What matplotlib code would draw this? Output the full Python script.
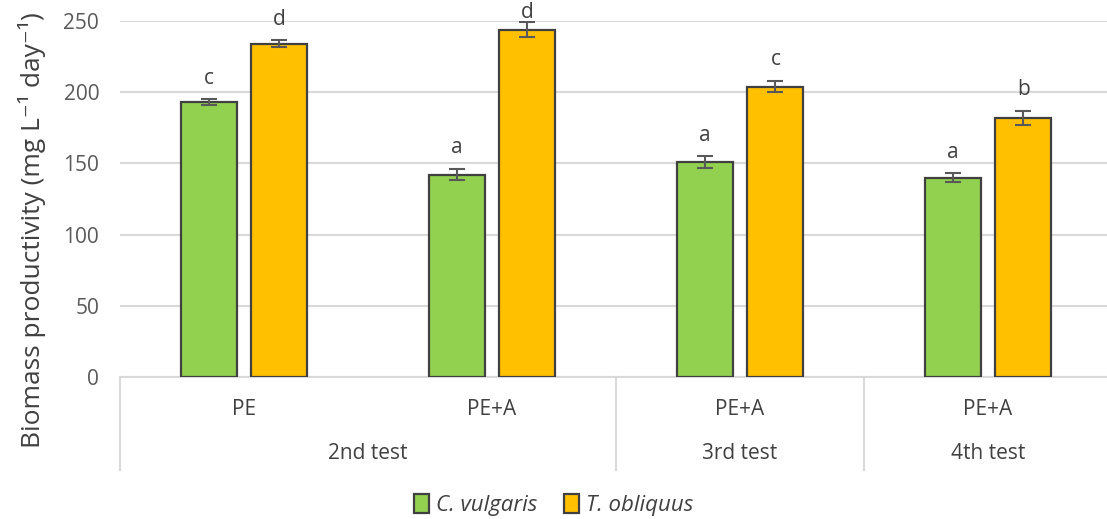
import matplotlib.pyplot as plt
import numpy as np

plt.rcParams['font.family'] = ['Open Sans', 'DejaVu Sans']

# Data
treatments = ['PE', 'PE+A', 'PE+A', 'PE+A']
tests = ['2nd test', '3rd test', '4th test']
test_spans = [(0, 1), (2, 2), (3, 3)]  # first and last category index per test
species = ['C. vulgaris', 'T. obliquus']
cv_mean = [193, 142, 151, 140]
cv_err = [2, 4, 4, 3]
to_mean = [234, 244, 204, 182]
to_err = [2.5, 5, 4, 5]
cv_letters = ['c', 'a', 'a', 'a']
to_letters = ['d', 'd', 'c', 'b']

green = '#92D050'
orange = '#FFC000'
edge = '#404040'
txt = '#404040'
W, H = 1107, 519

fig = plt.figure(figsize=(W / 100, H / 100), dpi=100)
ax = fig.add_axes([120 / W, 1 - 377 / H, 992 / W, 356 / H])

x = np.arange(len(treatments))
w = 0.226
off = 0.143
err_kw = dict(ecolor='#595959', elinewidth=1.5, capsize=6, capthick=1.5)
b1 = ax.bar(x - off, cv_mean, w, yerr=cv_err, color=green, edgecolor=edge,
            linewidth=1.6, error_kw=err_kw, label=species[0], zorder=3)
b2 = ax.bar(x + off, to_mean, w, yerr=to_err, color=orange, edgecolor=edge,
            linewidth=1.6, error_kw=err_kw, label=species[1], zorder=3)

# significance letters above error bars (kept inside the top of the chart)
for xs, means, errs, letters in [(x - off, cv_mean, cv_err, cv_letters),
                                 (x + off, to_mean, to_err, to_letters)]:
    for xi, m, e, s in zip(xs, means, errs, letters):
        ax.text(xi, min(m + e + 11, 252), s, ha='center', va='baseline',
                fontsize=15, color=txt, clip_on=False)

ax.set_xlim(-0.5, 3.5)
ax.set_ylim(0, 250)
ax.set_yticks(np.arange(0, 251, 50))
ax.tick_params(axis='y', length=0, labelsize=15, labelcolor='#595959', pad=15)
ax.set_xticks([])
ax.grid(axis='y', color='#D9D9D9', linewidth=1.5, zorder=0)
ax.set_axisbelow(True)
for sp in ['top', 'right', 'left']:
    ax.spines[sp].set_visible(False)
ax.spines['bottom'].set_color('#D9D9D9')
ax.spines['bottom'].set_linewidth(1.5)

fig.text(32 / W, 1 - 230 / H, 'Biomass productivity (mg L\u207b\u00b9 day\u207b\u00b9)',
         rotation=90, ha='center', va='center', fontsize=19, color=txt)

# two-level category axis
trans = ax.get_xaxis_transform()
for xi, t in zip(x, treatments):
    ax.text(xi, -0.09, t, transform=trans, ha='center', va='center',
            fontsize=15, color=txt)
for (a, b), t in zip(test_spans, tests):
    ax.text((a + b) / 2, -0.215, t, transform=trans, ha='center', va='center',
            fontsize=15, color=txt)
for sx in [-0.5, 1.5, 2.5, 3.5]:
    ax.plot([sx, sx], [0, -0.26], transform=trans, color='#D9D9D9',
            linewidth=1.5, clip_on=False)

leg = fig.legend(handles=[b1, b2], labels=species, loc='center',
                 bbox_to_anchor=(0.5, 1 - 505 / H), ncol=2, frameon=False,
                 handlelength=0.7, handleheight=0.95, handletextpad=0.3,
                 columnspacing=1.2, prop={'style': 'italic', 'size': 16})
for t in leg.get_texts():
    t.set_color(txt)

fig.savefig('out.png', dpi=100)
